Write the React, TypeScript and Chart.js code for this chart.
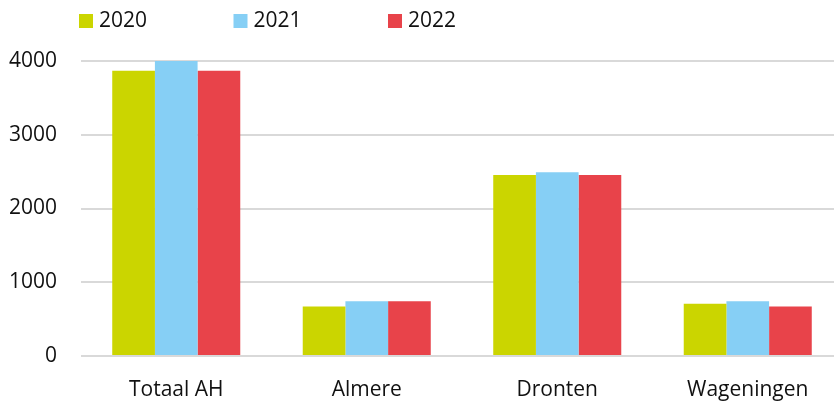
import React, { useEffect, useRef } from "react";
import { Chart, registerables } from "chart.js";

Chart.register(...registerables);

const categories = ["Totaal AH", "Almere", "Dronten", "Wageningen"];
const seriesLabels = ["2020", "2021", "2022"];
const values2020 = [3868, 670, 2455, 707];
const values2021 = [4000, 743, 2491, 743];
const values2022 = [3868, 743, 2455, 670];
const yTicks = [0, 1000, 2000, 3000, 4000];

const colors = ["#cbd500", "#86cff5", "#e8434a"];
const FONT = "'Open Sans', sans-serif";

const legendPlugin = {
  id: "customLegend",
  afterDraw(chart: any) {
    const ctx = chart.ctx;
    const startX = 79;
    const step = 154.5;
    ctx.save();
    ctx.font = `21px ${FONT}`;
    ctx.textBaseline = "middle";
    ctx.textAlign = "left";
    chart.data.datasets.forEach((ds: any, i: number) => {
      const x = startX + i * step;
      ctx.fillStyle = ds.backgroundColor;
      ctx.fillRect(x, 14, 14, 14);
      ctx.fillStyle = "#111";
      ctx.fillText(ds.label, x + 20, 21);
    });
    ctx.restore();
  },
};

export default function App() {
  const ref = useRef<HTMLCanvasElement>(null);
  useEffect(() => {
    if (!ref.current) return;
    const chart = new Chart(ref.current, {
      type: "bar",
      data: {
        labels: categories,
        datasets: [values2020, values2021, values2022].map((d, i) => ({
          label: seriesLabels[i],
          data: d,
          backgroundColor: colors[i],
          borderWidth: 0,
          categoryPercentage: 0.672,
          barPercentage: 1,
        })),
      },
      options: {
        animation: false,
        responsive: false,
        layout: { padding: { top: 61, right: 0, left: 0, bottom: 0 } },
        plugins: { legend: { display: false }, tooltip: { enabled: false } },
        scales: {
          x: {
            grid: { display: false, drawTicks: false },
            border: { display: false },
            ticks: { color: "#111", font: { family: FONT, size: 21 }, padding: 21 },
            afterFit(scale: any) {
              scale.height = 49;
            },
          },
          y: {
            min: 0,
            max: 4000,
            afterBuildTicks(scale: any) {
              scale.ticks = yTicks.map((v) => ({ value: v }));
            },
            grid: { color: "#d9d9d9", lineWidth: 2, drawTicks: false },
            border: { display: false },
            ticks: {
              color: "#111",
              font: { family: FONT, size: 21 },
              padding: 24,
              callback: (v: any) => String(v),
            },
            afterFit(scale: any) {
              scale.width = 81;
            },
          },
        },
      },
      plugins: [legendPlugin],
    });
    return () => chart.destroy();
  }, []);
  return (
    <div style={{ position: "fixed", left: 0, top: 0, width: 834, height: 405, overflow: "hidden", background: "#fff" }}>
      <canvas ref={ref} width={843} height={405} style={{ display: "block" }} />
    </div>
  );
}
